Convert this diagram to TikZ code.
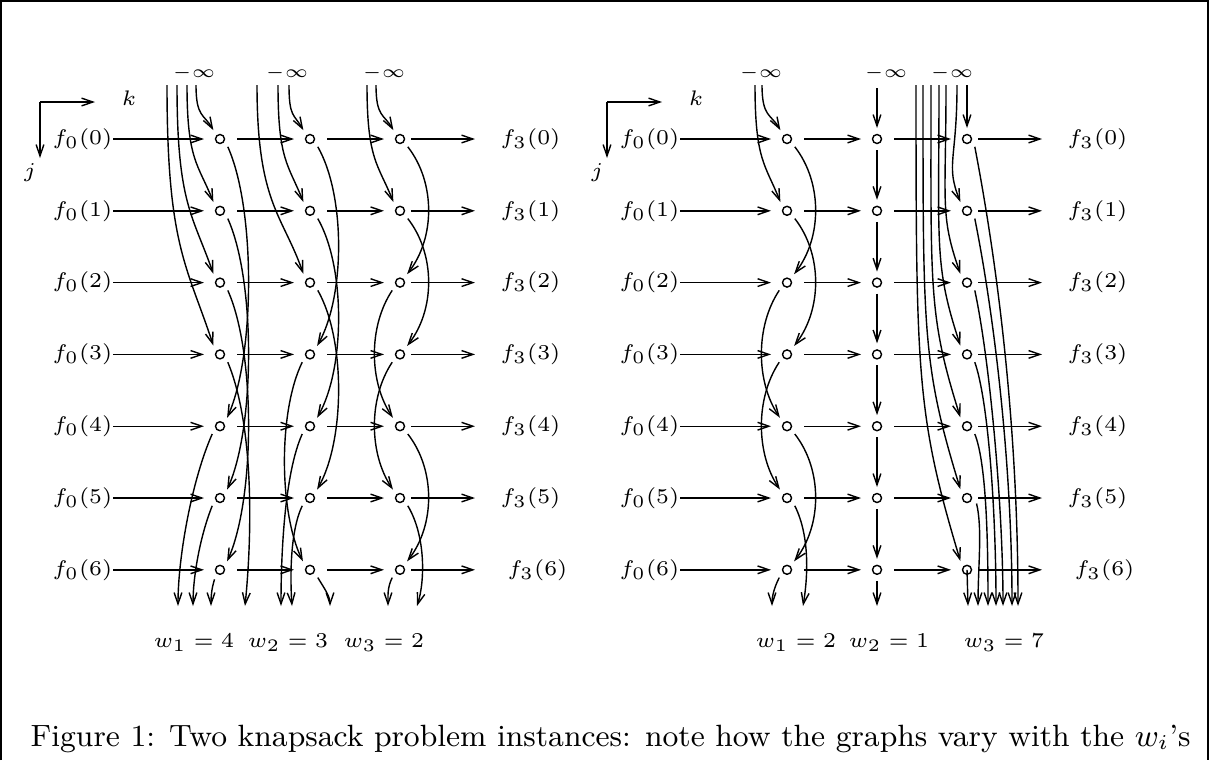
\documentclass[tikz,border=0pt]{standalone}
\usetikzlibrary{arrows.meta}
\begin{document}
\begin{tikzpicture}[x=0.01cm,y=-0.01cm,line width=0.4pt,
    every node/.style={inner sep=0pt,font=\fontsize{6}{8}\selectfont},
    dot/.style={draw,circle,minimum size=0.09cm,outer sep=0.065cm},
    arr/.style={-{Straight Barb[length=3.2pt,width=2.2pt]}},
    hor/.style={arr,shorten <=0.06cm,shorten >=0.05cm},
    inf/.style={font=\fontsize{5.4}{6}\selectfont}]
  \useasboundingbox (0,0) rectangle (1210,760);
  \draw[line width=0.6pt] (1,760) -- (1,1) -- (1208,1) -- (1208,760);
  \foreach \g/\ox in {a/0,b/567} {
    \coordinate (o\g) at (40+\ox,102);
    \coordinate (x\g) at (95+\ox,102);
    \coordinate (y\g) at (40+\ox,158);
    \draw[arr] (o\g) -- (x\g);
    \draw[arr] (o\g) -- (y\g);
    \node (k\g) at (129+\ox,98) {$k$};
    \node (j\g) at (30+\ox,173) {$j$};
    \foreach \j in {0,...,6} {
      \pgfmathsetmacro\y{139+71.8*\j}
      \pgfmathsetmacro\gx{\ox+(\j==6 ? 507 : 500)}
      \pgfmathsetmacro\gs{(\gx-\ox-475)*0.2845}
      \node[anchor=east] (f\g\j) at (113+\ox,\y) {$f_0(\j)$};
      \node[anchor=west] (h\g\j) at (\gx,\y) {$f_3(\j)$};
      \foreach \k in {1,2,3}
        \node[dot] (\g\k\j) at (130+90*\k+\ox,\y) {};
      \draw[arr,shorten >=0.05cm] (f\g\j) -- (\g1\j);
      \draw[hor] (\g1\j) -- (\g2\j);
      \draw[hor] (\g2\j) -- (\g3\j);
      \draw[arr,shorten >=\gs pt] (\g3\j) -- (h\g\j);
    }
  }
  \foreach \n/\x in {a1/194,a2/287,a3/384,b1/761,b2/886,b3/952}
    \node[inf] (i\n) at (\x,73) {$-\infty$};
  \foreach \n/\x/\i/\v in {a1/194/1/4,a2/288/2/3,a3/384/3/2,b1/796/1/2,b2/889/2/1,b3/1004/3/7}
    \node (w\n) at (\x,643) {$w_\i = \v$};
  % edges coming down from -infinity
  \foreach \g/\k/\j/\x in {a/1/0/196,a/1/1/187,a/1/2/177,a/1/3/167,a/2/0/289,a/2/1/278,a/2/2/257,
      a/3/0/376,a/3/1/367,b/1/0/762,b/1/1/755,b/3/1/957,b/3/2/946,b/3/3/939,b/3/4/931,b/3/5/923,b/3/6/916} {
    \coordinate (t\g\k\j) at (\x,85);
    \pgfmathsetmacro\L{54+71.8*\j}
    \draw[arr] (t\g\k\j) .. controls +(0,0.6*\L) and +(-5-0.08*\L,-0.3*\L) .. (\g\k\j.127);
  }
  \coordinate (tb20) at (877,88);
  \coordinate (tb30) at (967,85);
  \draw[arr] (tb20) -- (b20);
  \draw[arr] (tb30) -- (b30);
  % edges j -> j+w inside a column
  \foreach \g/\k/\j/\m/\s in {a/1/0/4/1,a/1/1/5/1,a/1/2/6/1,a/2/0/3/1,a/2/1/4/1,a/2/2/5/1,a/2/3/6/-1,
      a/3/0/2/1,a/3/1/3/1,a/3/2/4/-1,a/3/3/5/-1,a/3/4/6/1,b/1/0/2/1,b/1/1/3/1,b/1/2/4/-1,b/1/3/5/-1,b/1/4/6/1} {
    \pgfmathsetmacro\dy{10+13*(\m-\j)}
    \pgfmathtruncatemacro\sa{\s>0 ? -45 : -135}
    \pgfmathtruncatemacro\ea{\s>0 ? 50 : 130}
    \pgfmathtruncatemacro\dx{\s>0 ? 28 : -24}
    \draw[arr] (\g\k\j.\sa) .. controls +(\dx,\dy) and +(\dx,-\dy) .. (\g\k\m.\ea);
  }
  \foreach \j in {0,...,5} {
    \pgfmathtruncatemacro\m{\j+1}
    \draw[arr] (b2\j) -- (b2\m);
  }
  % edges leaving at the bottom
  \foreach \g/\k/\j/\a/\x/\px/\py/\qx/\qy in {a/1/3/-45/245/25/60/8/-80,a/1/4/-135/178/-20/45/0/-50,
      a/1/5/-135/193/-12/30/0/-30,a/1/6/-120/211/-3/10/0/-10,a/2/4/-135/281/-18/40/0/-50,
      a/2/5/-135/292/-12/25/-2/-30,a/2/6/-45/330/6/10/0/-10,a/3/5/-45/417/18/30/8/-25,
      a/3/6/-135/388/-5/10/0/-10,b/1/5/-45/803/15/30/5/-30,b/1/6/-135/772/-5/10/0/-10,
      b/3/0/-45/1018/25/130/0/-170,b/3/1/-45/1012/20/100/0/-140,b/3/2/-45/1003/15/70/0/-100,
      b/3/3/-45/996/14/40/0/-90,b/3/4/-45/988/12/30/0/-60,b/3/5/-30/978/6/25/0/-40} {
    \coordinate (e\g\k\j) at (\x,606);
    \draw[arr] (\g\k\j.\a) .. controls +(\px,\py) and +(\qx,\qy) .. (e\g\k\j);
  }
  \coordinate (eb26) at (877,606);
  \coordinate (eb36) at (968,606);
  \draw[arr] (b26) -- (eb26);
  \draw[arr] (b36.center) -- (eb36);
  \node[anchor=base west,font=\fontsize{8.75}{11}\selectfont] (cap) at (30,746)
    {Figure 1: Two knapsack problem instances: note how the graphs vary with the $w_i$'s};
\end{tikzpicture}
\end{document}
